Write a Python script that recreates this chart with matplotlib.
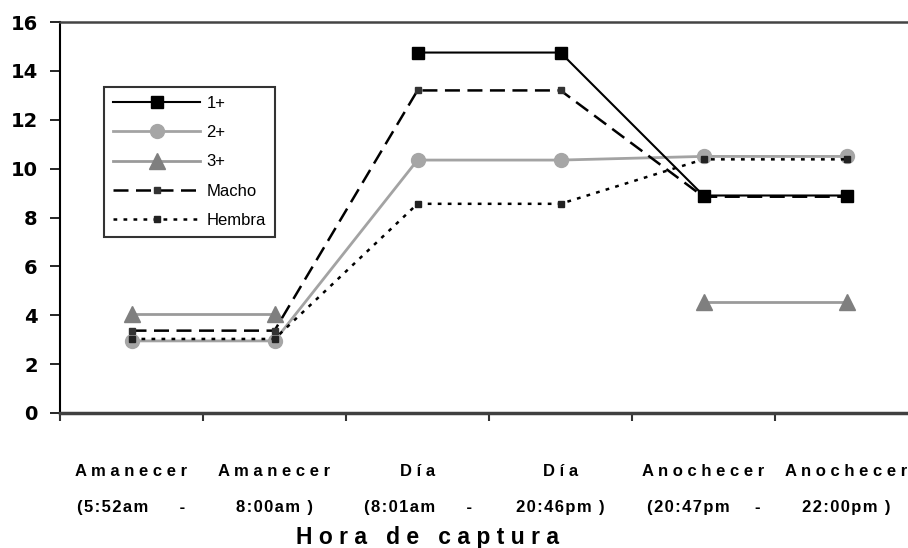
import matplotlib
matplotlib.use("Agg")
import matplotlib.pyplot as plt
import numpy as np

hs = "\u200a"  # hair space, used for the letter-spaced second line


# categories on the x axis (two lines each, as in the original)
cat_line1 = ["Amanecer", "Amanecer", "Día", "Día", "Anochecer", "Anochecer"]
cat_line2 = ["(5:52am     -", "8:00am )", "(8:01am     -", "20:46pm )",
             "(20:47pm    -", "22:00pm )"]
categories = [" ".join(a) + "\n" + hs.join(b) for a, b in zip(cat_line1, cat_line2)]

# values (nan = no point)
uno = [np.nan, np.nan, 14.75, 14.75, 8.9, 8.9]
dos = [2.95, 2.95, 10.35, 10.35, 10.5, 10.5]
tres = [4.05, 4.05, np.nan, np.nan, 4.55, 4.55]
macho = [3.37, 3.37, 13.2, 13.2, 8.85, 8.85]
hembra = [3.03, 3.03, 8.56, 8.56, 10.38, 10.38]

yticks = [0, 2, 4, 6, 8, 10, 12, 14, 16]

plt.rcParams['font.family'] = ['Liberation Sans', 'DejaVu Sans']

fig = plt.figure(figsize=(9.08, 5.48), dpi=100)
ax = fig.add_axes([60 / 908, 135 / 548, 858 / 908, 391 / 548])

x = np.arange(len(categories))

ax.plot(x, uno, color='black', lw=1.5, marker='s', ms=8,
        mfc='black', mec='black', label='1+', zorder=5)
ax.plot(x, dos, color='#a3a3a3', lw=2, marker='o', ms=10,
        mfc='#a6a6a6', mec='#a6a6a6', label='2+', zorder=3)
ax.plot(x, tres, color='#9a9a9a', lw=2, marker='^', ms=11,
        mfc='#7f7f7f', mec='#7f7f7f', label='3+', zorder=3)
ax.plot(x, macho, color='black', lw=1.8, ls=(0, (6, 3)), marker='s', ms=4,
        mfc='#333333', mec='#333333', label='Macho', zorder=4)
ax.plot(x, hembra, color='black', lw=1.8, ls=(0, (1.5, 2.5)), marker='s', ms=4,
        mfc='#222222', mec='#222222', label='Hembra', zorder=4)

ax.set_xlim(-0.5, 5.5)
ax.set_ylim(0, 16)

# ticks at category boundaries, labels at centres
ax.set_xticks(np.arange(-0.5, 6, 1))
ax.set_xticklabels([])
ax.set_xticks(x, minor=True)
ax.set_xticklabels(categories, minor=True, fontsize=12, fontweight='bold',
                   linespacing=2.7)
ax.tick_params(axis='x', which='minor', length=0, pad=37)
ax.tick_params(axis='x', which='major', length=6, width=1.5, direction='out',
               color='#333333')

ax.set_yticks(yticks)
ax.set_yticklabels([str(v) for v in yticks], fontsize=14, fontweight='bold',
                   family='DejaVu Sans')
ax.tick_params(axis='y', length=7, width=1.2, direction='out', pad=9)

ax.spines['right'].set_visible(False)
ax.spines['left'].set_color('black')
ax.spines['left'].set_linewidth(1.5)
ax.spines['bottom'].set_color('#404040')
ax.spines['bottom'].set_linewidth(2.5)
ax.spines['top'].set_color('#444444')
ax.spines['top'].set_linewidth(1.8)

ax.set_xlabel("H o r a   d e   c a p t u r a", fontsize=16.5, fontweight='bold')
ax.xaxis.set_label_coords((428 - 60) / 858, -0.29)

leg = ax.legend(loc='upper left', bbox_to_anchor=(104 / 908, 461 / 548),
                bbox_transform=fig.transFigure, fontsize=12, frameon=True,
                fancybox=False, edgecolor='black', handlelength=5.2,
                handletextpad=0.4, labelspacing=0.85, borderpad=0.55,
                borderaxespad=0)
leg.get_frame().set_linewidth(1.5)

fig.savefig('out.png', dpi=100)
